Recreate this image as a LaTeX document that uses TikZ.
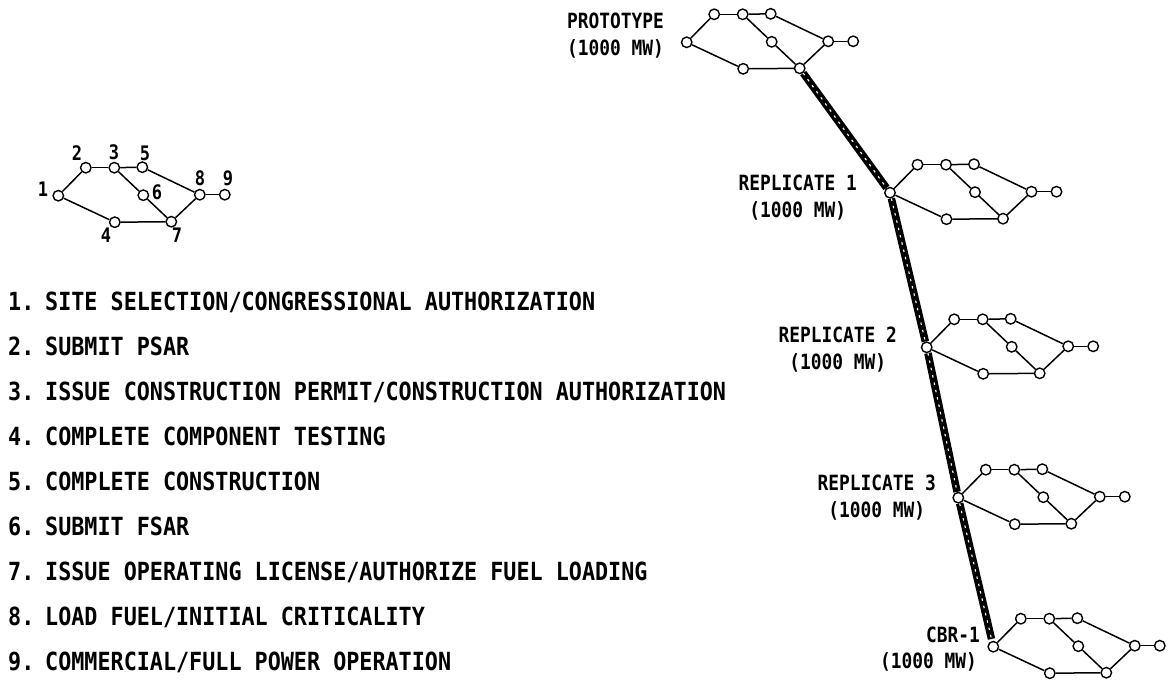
\documentclass[tikz,border=0pt]{standalone}
\usepackage{fontspec}
\usetikzlibrary{backgrounds}
\newfontfamily\gothic[FakeStretch=0.87]{DejaVu Sans Mono Bold}
\newfontfamily\gothicnarrow[FakeStretch=0.85]{DejaVu Sans Mono Bold}

\tikzset{
  ev/.style={circle, draw=black, fill=white, line width=1.4pt, minimum size=10.5pt, inner sep=0pt},
  link/.style={line width=1.5pt},
  rope/.style={line width=7.5pt, black},
  ropestreak/.style={line width=1.1pt, white, dash pattern=on 2.5pt off 5pt},
  legend/.style={anchor=base west, inner sep=0pt, font=\gothic\fontsize{25}{25}\selectfont},
  plantlabel/.style={align=center, inner sep=0pt, font=\gothicnarrow\fontsize{21}{27}\selectfont},
  evnum/.style={inner sep=0pt, font=\gothicnarrow\fontsize{20}{20}\selectfont}
}

% numbered legend entry: number, then the event text
\newcommand\evitem[2]{\makebox[37pt][l]{#1.}#2}

% one milestone network, node 1 placed at (#2,#3)
\newcommand\netgraph[3]{%
  \begin{scope}[shift={(#2,#3)}]
    \node[ev] (#1-1) at (0,0) {};
    \node[ev] (#1-2) at (27.5,-28) {};
    \node[ev] (#1-3) at (56,-28) {};
    \node[ev] (#1-5) at (84,-28.5) {};
    \node[ev] (#1-6) at (85,-0.5) {};
    \node[ev] (#1-8) at (141.5,-1) {};
    \node[ev] (#1-9) at (166.5,-1) {};
    \node[ev] (#1-4) at (56.5,26.5) {};
    \node[ev] (#1-7) at (113,26) {};
    \draw[link] (#1-1) -- (#1-2);
    \draw[link] (#1-2) -- (#1-3);
    \draw[link] (#1-3) -- (#1-5);
    \draw[link] (#1-5) -- (#1-8);
    \draw[link] (#1-8) -- (#1-9);
    \draw[link] (#1-3) -- (#1-6);
    \draw[link] (#1-6) -- (#1-7);
    \draw[link] (#1-7) -- (#1-8);
    \draw[link] (#1-1) -- (#1-4);
    \draw[link] (#1-4) -- (#1-7);
  \end{scope}}

\begin{document}
\begin{tikzpicture}[x=1pt, y=-1pt]
  \useasboundingbox (0,0) rectangle (1169,683);

  % key network with event numbers
  \netgraph{k}{58.3}{195.7}
  \node[evnum] (n1) at (43,189) {1};
  \node[evnum] (n2) at (77,153) {2};
  \node[evnum] (n3) at (114,152) {3};
  \node[evnum] (n5) at (145,153) {5};
  \node[evnum] (n6) at (157,192) {6};
  \node[evnum] (n8) at (200,178) {8};
  \node[evnum] (n9) at (228,178) {9};
  \node[evnum] (n4) at (106,235) {4};
  \node[evnum] (n7) at (177,235) {7};

  % legend of events
  \node[legend] (l1) at (8,310) {\evitem{1}{SITE SELECTION/CONGRESSIONAL AUTHORIZATION}};
  \node[legend] (l2) at (8,355) {\evitem{2}{SUBMIT PSAR}};
  \node[legend] (l3) at (8,400) {\evitem{3}{ISSUE CONSTRUCTION PERMIT/CONSTRUCTION AUTHORIZATION}};
  \node[legend] (l4) at (8,445) {\evitem{4}{COMPLETE COMPONENT TESTING}};
  \node[legend] (l5) at (8,490) {\evitem{5}{COMPLETE CONSTRUCTION}};
  \node[legend] (l6) at (8,535) {\evitem{6}{SUBMIT FSAR}};
  \node[legend] (l7) at (8,580) {\evitem{7}{ISSUE OPERATING LICENSE/AUTHORIZE FUEL LOADING}};
  \node[legend] (l8) at (8,625) {\evitem{8}{LOAD FUEL/INITIAL CRITICALITY}};
  \node[legend] (l9) at (8,670) {\evitem{9}{COMMERCIAL/FULL POWER OPERATION}};

  % plant schedules
  \netgraph{p}{686.7}{42.3}
  \netgraph{ra}{890}{192.7}
  \netgraph{rb}{926.7}{347.3}
  \netgraph{rc}{958.3}{497.7}
  \netgraph{cb}{993.3}{646.7}

  \node[plantlabel, anchor=east] (tp) at (664,36) {PROTOTYPE\\(1000 MW)};
  \node[plantlabel, anchor=east] (ta) at (857,198) {REPLICATE 1\\(1000 MW)};
  \node[plantlabel, anchor=east] (tb) at (897,350) {REPLICATE 2\\(1000 MW)};
  \node[plantlabel, anchor=east] (tc) at (936,498) {REPLICATE 3\\(1000 MW)};
  \node[plantlabel, anchor=east] (tcb) at (980,635) {CBR-1};
  \node[plantlabel, anchor=east] (tcw) at (977,662) {(1000 MW)};

  % twisted line linking the successive plants
  \begin{scope}[on background layer]
    \draw[rope] (p-7) -- (ra-1);
    \draw[rope] (ra-1) -- (rb-1);
    \draw[rope] (rb-1) -- (rc-1);
    \draw[rope, shorten >=2pt] (rc-1) -- (cb-1);
    \draw[ropestreak] (p-7) -- (ra-1);
    \draw[ropestreak] (ra-1) -- (rb-1);
    \draw[ropestreak] (rb-1) -- (rc-1);
    \draw[ropestreak, shorten >=2pt] (rc-1) -- (cb-1);
  \end{scope}
\end{tikzpicture}
\end{document}
